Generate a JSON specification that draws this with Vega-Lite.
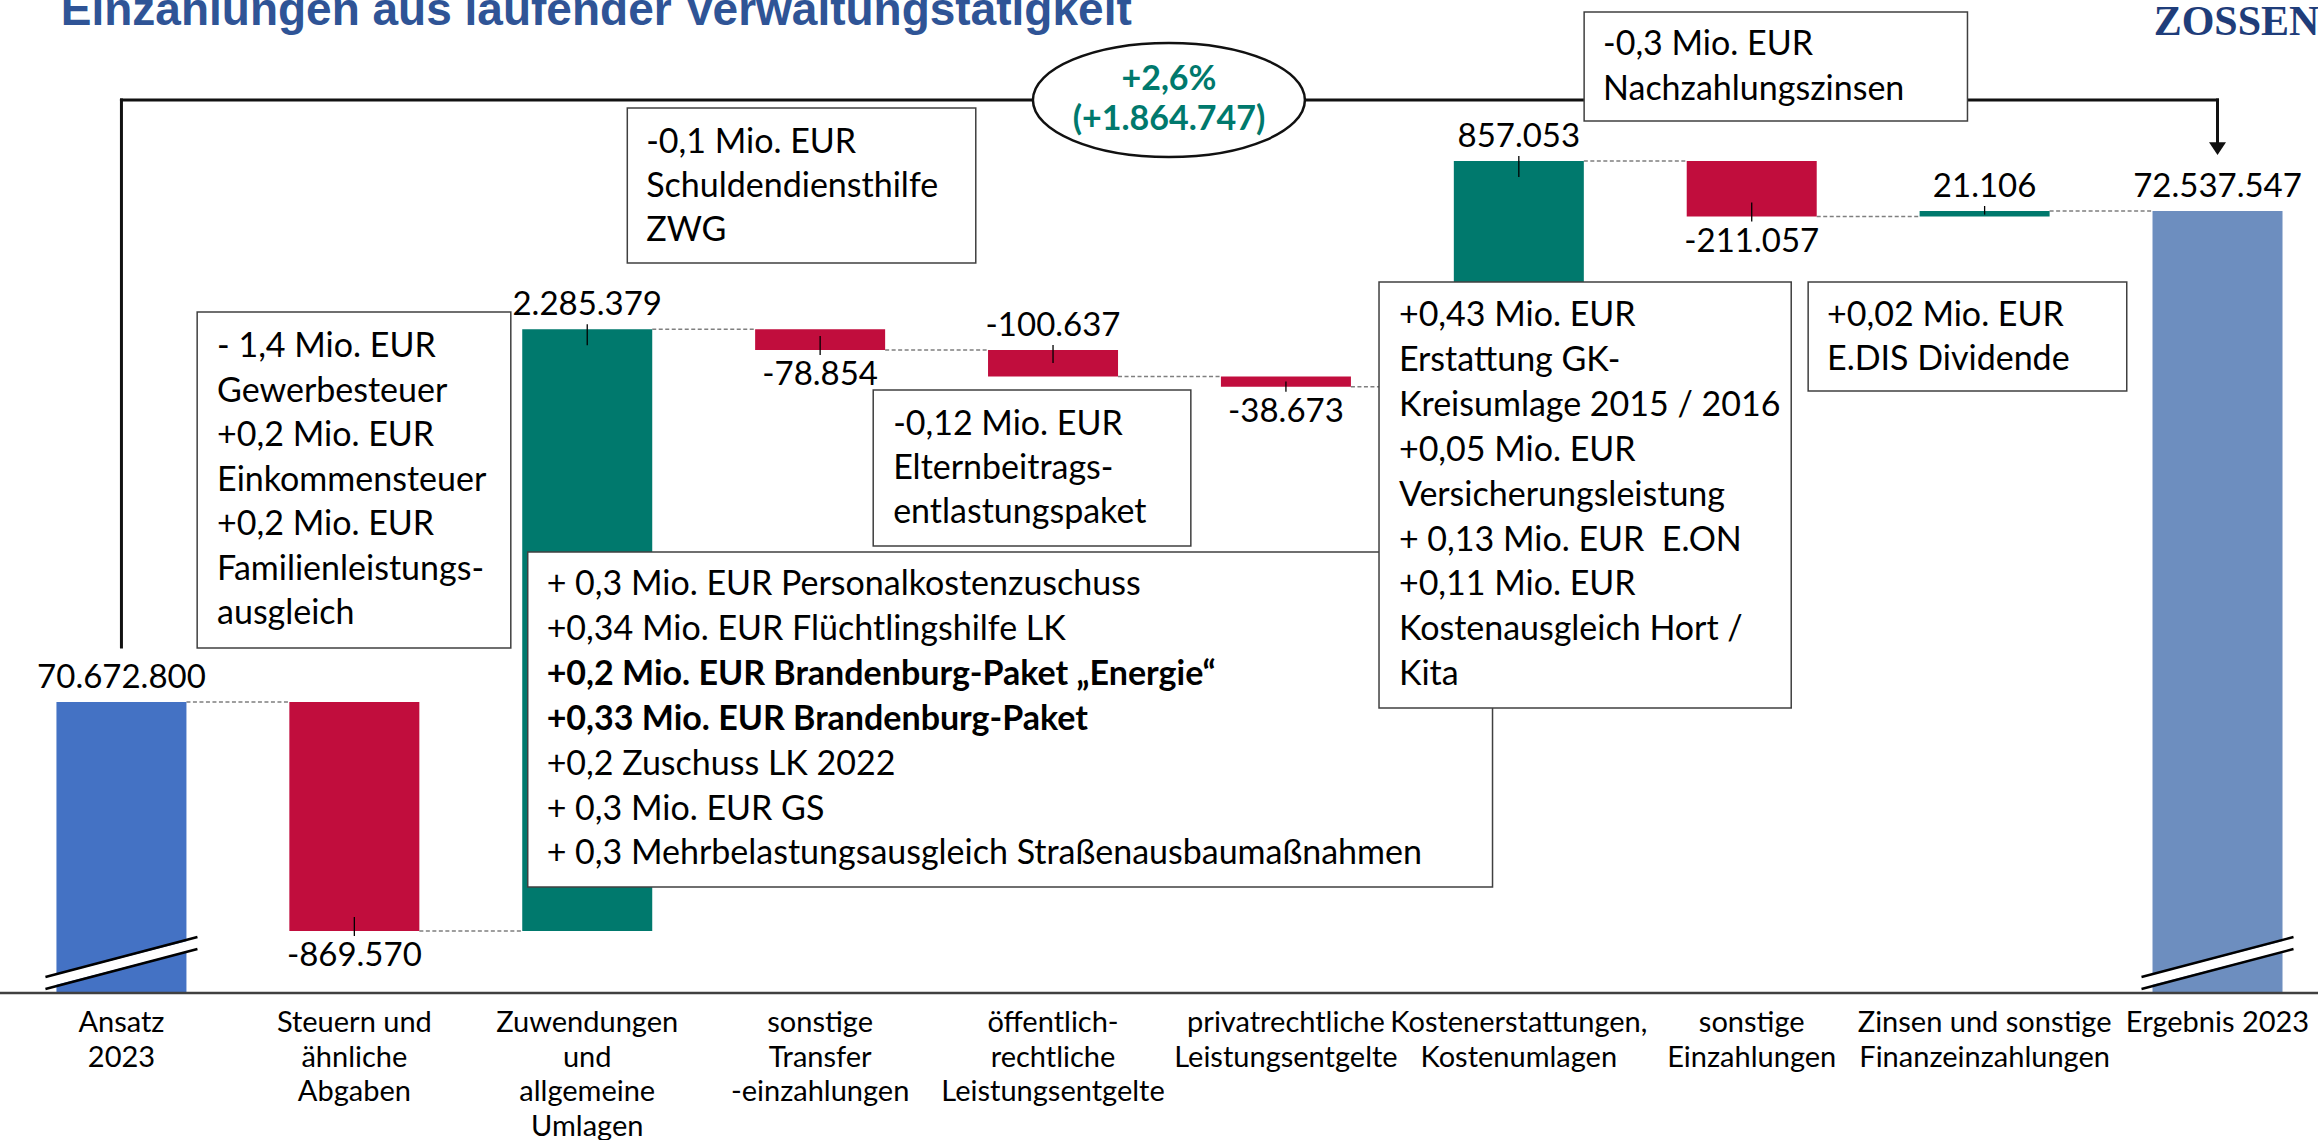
{
  "$schema": "https://vega.github.io/schema/vega-lite/v6.json",
  "width": 2318,
  "height": 1140,
  "padding": 0,
  "autosize": "none",
  "background": "white",
  "config": {
    "view": {"stroke": null},
    "locale": {"number": {"decimal": ",", "thousands": ".", "grouping": [3], "currency": ["", " €"], "minus": "-"}},
    "text": {"font": "Lato", "color": "#000000"}
  },
  "datasets": {
    "bars": [
      {"idx": 0, "label": "Ansatz\n2023", "kind": "Ansatz", "value": 70672800, "start": 0, "end": 70672800},
      {"idx": 1, "label": "Steuern und\nähnliche\nAbgaben", "kind": "Abnahme", "value": -869570, "start": 70672800, "end": 69803230},
      {"idx": 2, "label": "Zuwendungen\nund\nallgemeine\nUmlagen", "kind": "Zunahme", "value": 2285379, "start": 69803230, "end": 72088609},
      {"idx": 3, "label": "sonstige\nTransfer\n-einzahlungen", "kind": "Abnahme", "value": -78854, "start": 72088609, "end": 72009755},
      {"idx": 4, "label": "öffentlich-\nrechtliche\nLeistungsentgelte", "kind": "Abnahme", "value": -100637, "start": 72009755, "end": 71909118},
      {"idx": 5, "label": "privatrechtliche\nLeistungsentgelte", "kind": "Abnahme", "value": -38673, "start": 71909118, "end": 71870445},
      {"idx": 6, "label": "Kostenerstattungen,\nKostenumlagen", "kind": "Zunahme", "value": 857053, "start": 71870445, "end": 72727498},
      {"idx": 7, "label": "sonstige\nEinzahlungen", "kind": "Abnahme", "value": -211057, "start": 72727498, "end": 72516441},
      {"idx": 8, "label": "Zinsen und sonstige\nFinanzeinzahlungen", "kind": "Zunahme", "value": 21106, "start": 72516441, "end": 72537547},
      {"idx": 9, "label": "Ergebnis 2023", "kind": "Ergebnis", "value": 72537547, "start": 0, "end": 72537547}
    ]
  },
  "layer": [
    {
      "data": {"values": [{}]},
      "mark": {"type": "rule", "stroke": "#111111", "strokeWidth": 3, "strokeCap": "square"},
      "encoding": {
        "x": {"datum": 0, "type": "quantitative", "scale": {"domain": [-0.5, 9.41], "nice": false, "zero": false}, "axis": null},
        "x2": {"datum": 9},
        "y": {"datum": 72959200, "type": "quantitative", "scale": {"domain": [69009280, 73339000], "nice": false, "zero": false}, "axis": null}
      }
    },
    {
      "data": {"values": [{}]},
      "mark": {"type": "rule", "stroke": "#111111", "strokeWidth": 3, "strokeCap": "square"},
      "encoding": {"x": {"datum": 0}, "y": {"datum": 72959200}, "y2": {"datum": 70881694}}
    },
    {
      "data": {"values": [{}]},
      "mark": {"type": "rule", "stroke": "#111111", "strokeWidth": 3, "strokeCap": "square"},
      "encoding": {"x": {"datum": 9}, "y": {"datum": 72959200}, "y2": {"datum": 72774997}}
    },
    {
      "data": {"values": [{}]},
      "mark": {"type": "point", "shape": "M -1 -0.75 L 1 -0.75 L 0 0.75 Z", "size": 289, "filled": true, "fill": "#111111", "stroke": null, "opacity": 1},
      "encoding": {"x": {"datum": 9}, "y": {"datum": 72774997}}
    },
    {
      "data": {"name": "bars"},
      "transform": [{"filter": "datum.idx < 9"}],
      "mark": {"type": "rule", "stroke": "#7f7f7f", "strokeWidth": 1.5, "strokeDash": [4, 2.5], "xOffset": 65, "x2Offset": 169},
      "encoding": {"x": {"field": "idx", "type": "quantitative"}, "x2": {"field": "idx"}, "y": {"field": "end", "type": "quantitative"}}
    },
    {
      "data": {"name": "bars"},
      "transform": [{"filter": "datum.kind == 'Ansatz' || datum.kind == 'Ergebnis'"}],
      "mark": {"type": "bar", "width": 130, "orient": "vertical"},
      "encoding": {
        "x": {"field": "idx", "type": "quantitative"},
        "y": {"field": "end", "type": "quantitative"},
        "y2": {"datum": 69567586},
        "color": {"field": "kind", "type": "nominal", "scale": {"domain": ["Ansatz", "Zunahme", "Abnahme", "Ergebnis"], "range": ["#4472C4", "#00796D", "#C10D3D", "#6D8EBF"]}, "legend": null}
      }
    },
    {
      "data": {"name": "bars"},
      "transform": [{"filter": "datum.kind == 'Zunahme' || datum.kind == 'Abnahme'"}],
      "mark": {"type": "bar", "width": 130, "orient": "vertical"},
      "encoding": {
        "x": {"field": "idx", "type": "quantitative"},
        "y": {"field": "start", "type": "quantitative"},
        "y2": {"field": "end"},
        "color": {"field": "kind", "type": "nominal", "scale": {"domain": ["Ansatz", "Zunahme", "Abnahme", "Ergebnis"], "range": ["#4472C4", "#00796D", "#C10D3D", "#6D8EBF"]}, "legend": null}
      }
    },
    {
      "data": {"name": "bars"},
      "transform": [{"filter": "datum.kind == 'Ansatz' || datum.kind == 'Ergebnis'"}],
      "mark": {"type": "rule", "stroke": "white", "strokeWidth": 10, "xOffset": -78, "x2Offset": 78},
      "encoding": {"x": {"field": "idx", "type": "quantitative"}, "x2": {"field": "idx"}, "y": {"datum": 69605566}, "y2": {"datum": 69757486}}
    },
    {
      "data": {"name": "bars"},
      "transform": [{"filter": "datum.kind == 'Ansatz' || datum.kind == 'Ergebnis'"}],
      "mark": {"type": "rule", "stroke": "#000000", "strokeWidth": 2.5, "xOffset": -76, "x2Offset": 76},
      "encoding": {"x": {"field": "idx", "type": "quantitative"}, "x2": {"field": "idx"}, "y": {"datum": 69628354}, "y2": {"datum": 69780274}}
    },
    {
      "data": {"name": "bars"},
      "transform": [{"filter": "datum.kind == 'Ansatz' || datum.kind == 'Ergebnis'"}],
      "mark": {"type": "rule", "stroke": "#000000", "strokeWidth": 2.5, "xOffset": -76, "x2Offset": 76},
      "encoding": {"x": {"field": "idx", "type": "quantitative"}, "x2": {"field": "idx"}, "y": {"datum": 69582778}, "y2": {"datum": 69734698}}
    },
    {
      "data": {"values": [{}]},
      "mark": {"type": "rule", "stroke": "#404040", "strokeWidth": 2.5},
      "encoding": {"y": {"datum": 69567586}}
    },
    {
      "data": {"name": "bars"},
      "transform": [{"filter": "datum.kind == 'Zunahme' && datum.value > 50000"}],
      "mark": {"type": "rule", "stroke": "#000000", "strokeWidth": 1.3, "yOffset": -5, "y2Offset": 16},
      "encoding": {"x": {"field": "idx", "type": "quantitative"}, "y": {"field": "end", "type": "quantitative"}, "y2": {"field": "end"}}
    },
    {
      "data": {"name": "bars"},
      "transform": [{"filter": "datum.idx == 4"}],
      "mark": {"type": "rule", "stroke": "#000000", "strokeWidth": 1.3, "yOffset": -5, "y2Offset": 13},
      "encoding": {"x": {"field": "idx", "type": "quantitative"}, "y": {"field": "start", "type": "quantitative"}, "y2": {"field": "start"}}
    },
    {
      "data": {"name": "bars"},
      "transform": [{"filter": "datum.kind == 'Zunahme' && datum.value <= 50000"}],
      "mark": {"type": "rule", "stroke": "#000000", "strokeWidth": 1.3, "yOffset": -5, "y2Offset": -2},
      "encoding": {"x": {"field": "idx", "type": "quantitative"}, "y": {"field": "end", "type": "quantitative"}, "y2": {"field": "start"}}
    },
    {
      "data": {"name": "bars"},
      "transform": [{"filter": "datum.kind == 'Abnahme' && datum.idx != 4 && datum.value < -50000"}],
      "mark": {"type": "rule", "stroke": "#000000", "strokeWidth": 1.3, "yOffset": -14, "y2Offset": 5},
      "encoding": {"x": {"field": "idx", "type": "quantitative"}, "y": {"field": "end", "type": "quantitative"}, "y2": {"field": "end"}}
    },
    {
      "data": {"name": "bars"},
      "transform": [{"filter": "datum.kind == 'Abnahme' && datum.value >= -50000"}],
      "mark": {"type": "rule", "stroke": "#000000", "strokeWidth": 1.3, "yOffset": 5, "y2Offset": 5},
      "encoding": {"x": {"field": "idx", "type": "quantitative"}, "y": {"field": "start", "type": "quantitative"}, "y2": {"field": "end"}}
    },
    {
      "data": {"name": "bars"},
      "transform": [{"filter": "datum.value > 0"}],
      "mark": {"type": "text", "fontSize": 33, "align": "center", "baseline": "alphabetic", "dy": -14},
      "encoding": {"x": {"field": "idx", "type": "quantitative"}, "y": {"field": "end", "type": "quantitative"}, "text": {"field": "value", "type": "quantitative", "format": ",.0f"}}
    },
    {
      "data": {"name": "bars"},
      "transform": [{"filter": "datum.idx == 4"}],
      "mark": {"type": "text", "fontSize": 33, "align": "center", "baseline": "alphabetic", "dy": -14},
      "encoding": {"x": {"field": "idx", "type": "quantitative"}, "y": {"field": "start", "type": "quantitative"}, "text": {"field": "value", "type": "quantitative", "format": ",.0f"}}
    },
    {
      "data": {"name": "bars"},
      "transform": [{"filter": "datum.value < 0 && datum.idx != 4"}],
      "mark": {"type": "text", "fontSize": 33, "align": "center", "baseline": "alphabetic", "dy": 35},
      "encoding": {"x": {"field": "idx", "type": "quantitative"}, "y": {"field": "end", "type": "quantitative"}, "text": {"field": "value", "type": "quantitative", "format": ",.0f"}}
    },
    {
      "data": {"values": [{}]},
      "mark": {"type": "rect", "fill": "white", "stroke": "#404040", "strokeWidth": 1.5},
      "encoding": {"x": {"datum": 0.3251}, "x2": {"datum": 1.6718}, "y": {"datum": 72154024}, "y2": {"datum": 70877896}}
    },
    {
      "data": {"values": [{}]},
      "mark": {"type": "text", "fontSize": 34, "align": "left", "baseline": "alphabetic", "lineHeight": 44.5,
        "text": ["- 1,4 Mio. EUR", "Gewerbesteuer", "+0,2 Mio. EUR", "Einkommensteuer", "+0,2 Mio. EUR", "Familienleistungs-", "ausgleich"]},
      "encoding": {"x": {"datum": 0.4106}, "y": {"datum": 71983114}}
    },
    {
      "data": {"values": [{}]},
      "mark": {"type": "rect", "fill": "white", "stroke": "#404040", "strokeWidth": 1.5},
      "encoding": {"x": {"datum": 2.172}, "x2": {"datum": 3.6683}, "y": {"datum": 72928816}, "y2": {"datum": 72340126}}
    },
    {
      "data": {"values": [{}]},
      "mark": {"type": "text", "fontSize": 34, "align": "left", "baseline": "alphabetic", "lineHeight": 44,
        "text": ["-0,1 Mio. EUR", "Schuldendiensthilfe", "ZWG"]},
      "encoding": {"x": {"datum": 2.2532}, "y": {"datum": 72759805}}
    },
    {
      "data": {"values": [{}]},
      "mark": {"type": "rect", "fill": "white", "stroke": "#404040", "strokeWidth": 1.5},
      "encoding": {"x": {"datum": 3.2279}, "x2": {"datum": 4.5917}, "y": {"datum": 71857780}, "y2": {"datum": 71265292}}
    },
    {
      "data": {"values": [{}]},
      "mark": {"type": "text", "fontSize": 34, "align": "left", "baseline": "alphabetic", "lineHeight": 44,
        "text": ["-0,12 Mio. EUR", "Elternbeitrags-", "entlastungspaket"]},
      "encoding": {"x": {"datum": 3.3134}, "y": {"datum": 71686870}}
    },
    {
      "data": {"values": [{}]},
      "mark": {"type": "rect", "fill": "white", "stroke": "#404040", "strokeWidth": 1.5},
      "encoding": {"x": {"datum": 1.7445}, "x2": {"datum": 5.8871}, "y": {"datum": 71242504}, "y2": {"datum": 69970174}}
    },
    {
      "data": {"values": [{}]},
      "mark": {"type": "text", "fontSize": 34, "align": "left", "baseline": "alphabetic", "lineHeight": 44.7,
        "text": ["+ 0,3 Mio. EUR Personalkostenzuschuss", "+0,34 Mio. EUR Flüchtlingshilfe LK"]},
      "encoding": {"x": {"datum": 1.8257}, "y": {"datum": 71079190}}
    },
    {
      "data": {"values": [{}]},
      "mark": {"type": "text", "fontSize": 34, "fontWeight": "bold", "align": "left", "baseline": "alphabetic", "lineHeight": 44.7,
        "text": ["+0,2 Mio. EUR Brandenburg-Paket „Energie“", "+0,33 Mio. EUR Brandenburg-Paket"]},
      "encoding": {"x": {"datum": 1.8257}, "y": {"datum": 70737370}}
    },
    {
      "data": {"values": [{}]},
      "mark": {"type": "text", "fontSize": 34, "align": "left", "baseline": "alphabetic", "lineHeight": 44.7,
        "text": ["+0,2 Zuschuss LK 2022", "+ 0,3 Mio. EUR GS", "+ 0,3 Mehrbelastungsausgleich Straßenausbaumaßnahmen"]},
      "encoding": {"x": {"datum": 1.8257}, "y": {"datum": 70395550}}
    },
    {
      "data": {"values": [{}]},
      "mark": {"type": "rect", "fill": "white", "stroke": "#404040", "strokeWidth": 1.5},
      "encoding": {"x": {"datum": 5.3997}, "x2": {"datum": 7.1696}, "y": {"datum": 72267964}, "y2": {"datum": 70650016}}
    },
    {
      "data": {"values": [{}]},
      "mark": {"type": "text", "fontSize": 34, "align": "left", "baseline": "alphabetic", "lineHeight": 44.9,
        "text": ["+0,43 Mio. EUR", "Erstattung GK-", "Kreisumlage 2015 / 2016", "+0,05 Mio. EUR", "Versicherungsleistung", "+ 0,13 Mio. EUR\u00a0 E.ON", "+0,11 Mio. EUR", "Kostenausgleich Hort /", "Kita"]},
      "encoding": {"x": {"datum": 5.4852}, "y": {"datum": 72100852}}
    },
    {
      "data": {"values": [{}]},
      "mark": {"type": "rect", "fill": "white", "stroke": "#404040", "strokeWidth": 1.5},
      "encoding": {"x": {"datum": 7.2423}, "x2": {"datum": 8.6103}, "y": {"datum": 72267964}, "y2": {"datum": 71853982}}
    },
    {
      "data": {"values": [{}]},
      "mark": {"type": "text", "fontSize": 34, "align": "left", "baseline": "alphabetic", "lineHeight": 44,
        "text": ["+0,02 Mio. EUR", "E.DIS Dividende"]},
      "encoding": {"x": {"datum": 7.3236}, "y": {"datum": 72100852}}
    },
    {
      "data": {"values": [{}]},
      "mark": {"type": "rect", "fill": "white", "stroke": "#404040", "strokeWidth": 1.5},
      "encoding": {"x": {"datum": 6.2804}, "x2": {"datum": 7.9264}, "y": {"datum": 73293424}, "y2": {"datum": 72879442}}
    },
    {
      "data": {"values": [{}]},
      "mark": {"type": "text", "fontSize": 34, "align": "left", "baseline": "alphabetic", "lineHeight": 45,
        "text": ["-0,3 Mio. EUR", "Nachzahlungszinsen"]},
      "encoding": {"x": {"datum": 6.3616}, "y": {"datum": 73130110}}
    },
    {
      "data": {"values": [{}]},
      "mark": {"type": "point", "shape": "M -1 0 C -1 -0.232 -0.5523 -0.42 0 -0.42 C 0.5523 -0.42 1 -0.232 1 0 C 1 0.232 0.5523 0.42 0 0.42 C -0.5523 0.42 -1 0.232 -1 0 Z", "size": 73984, "filled": true, "fill": "white", "stroke": "#111111", "strokeWidth": 2.5, "opacity": 1},
      "encoding": {"x": {"datum": 4.4976}, "y": {"datum": 72959200}}
    },
    {
      "data": {"values": [{}]},
      "mark": {"type": "text", "fontSize": 34, "fontWeight": "bold", "align": "center", "baseline": "alphabetic", "lineHeight": 40, "color": "#00796D",
        "text": ["+2,6%", "(+1.864.747)"]},
      "encoding": {"x": {"datum": 4.4976}, "y": {"datum": 72997180}}
    },
    {
      "data": {"name": "bars"},
      "mark": {"type": "text", "fontSize": 29, "align": "center", "baseline": "alphabetic", "lineBreak": "\n", "lineHeight": 34.5, "dy": 39},
      "encoding": {"x": {"field": "idx", "type": "quantitative"}, "y": {"datum": 69567586}, "text": {"field": "label", "type": "nominal"}}
    },
    {
      "data": {"values": [{}]},
      "mark": {"type": "text", "font": "Liberation Sans", "fontSize": 46, "fontWeight": "bold", "align": "left", "baseline": "alphabetic", "color": "#2F5496",
        "text": "Einzahlungen aus laufender Verwaltungstätigkeit"},
      "encoding": {"x": {"datum": -0.2606}, "y": {"datum": 73244050}}
    },
    {
      "data": {"values": [{}]},
      "mark": {"type": "text", "font": "Liberation Serif", "fontSize": 42, "fontWeight": "bold", "align": "left", "baseline": "alphabetic", "color": "#1F3D7A",
        "text": "ZOSSEN"},
      "encoding": {"x": {"datum": 8.7258}, "y": {"datum": 73206070}}
    }
  ]
}
